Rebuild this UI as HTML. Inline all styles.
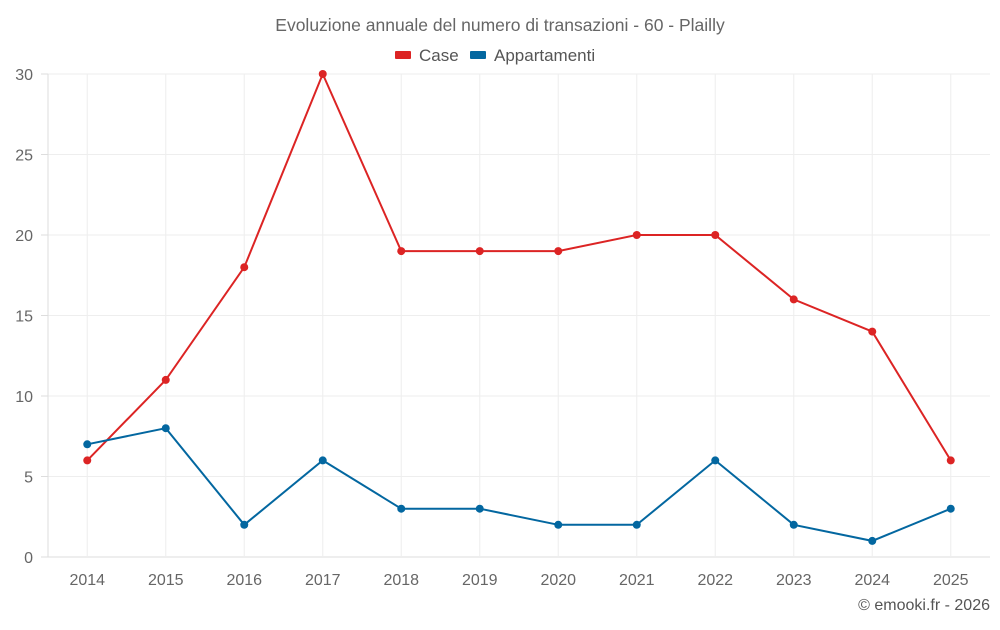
<!DOCTYPE html>
<html><head><meta charset="utf-8"><style>
body{margin:0;background:#fff;font-family:"Liberation Sans",sans-serif}
svg text{font-family:"Liberation Sans",sans-serif}
</style></head><body>
<svg id="c" width="1000" height="625">
<text x="500" y="31" text-anchor="middle" font-size="17.5" fill="#666">Evoluzione annuale del numero di transazioni - 60 - Plailly</text>
<g>
<g><rect x="395" y="51" width="16" height="8" rx="1" fill="#dc2424"/><text x="419" y="61" font-size="17" fill="#555">Case</text></g>
<g><rect x="470" y="51" width="16" height="8" rx="1" fill="#0367a0"/><text x="494" y="61" font-size="17" fill="#555">Appartamenti</text></g>
</g>
<g id="grid"></g><g id="axes"></g><g id="series"></g>
<text x="990" y="610" text-anchor="end" font-size="16" fill="#555">© emooki.fr - 2026</text>
</svg>
<script>
const years=["2014","2015","2016","2017","2018","2019","2020","2021","2022","2023","2024","2025"];
const casa=[6,11,18,30,19,19,19,20,20,16,14,6];
const appartamenti=[7,8,2,6,3,3,2,2,6,2,1,3];
const yTicks=[0,5,10,15,20,25,30];
const L=48,R=990,T=74,B=557,ymax=30;
const bw=(R-L)/years.length;
const x=i=>L+bw*(i+0.5);
const y=v=>B-(v/ymax)*(B-T);
const NS="http://www.w3.org/2000/svg";
function mk(p,t,a){const e=document.createElementNS(NS,t);for(const k in a)e.setAttribute(k,a[k]);p.appendChild(e);return e;}
const g=document.getElementById('grid'),ax=document.getElementById('axes'),s=document.getElementById('series');
yTicks.forEach(v=>{
 const l=mk(g,'line',{x1:L,x2:R,y1:y(v),y2:y(v),stroke:v?'#eee':'#ddd'});
 
 
 mk(ax,'line',{x1:41,x2:L,y1:y(v),y2:y(v),stroke:'#ddd'});
 const t=mk(ax,'text',{x:33,y:y(v)+6,'text-anchor':'end','font-size':16,fill:'#666'});t.textContent=v;
 
 
});
mk(g,'line',{x1:L,x2:L,y1:T,y2:B,stroke:'#ddd'});
years.forEach((yr,i)=>{
 const l=mk(g,'line',{x1:x(i),x2:x(i),y1:T,y2:B,stroke:'#eee'});
 
 
 const t=mk(ax,'text',{x:x(i),y:585,'text-anchor':'middle','font-size':16,fill:'#666'});t.textContent=yr;
 
 
});
function series(vals,col,name){
 const p=mk(s,'polyline',{points:vals.map((v,i)=>x(i)+','+y(v)).join(' '),fill:'none',stroke:col,'stroke-width':2});
 
 
 vals.forEach((v,i)=>{const c=mk(s,'circle',{cx:x(i),cy:y(v),r:4,fill:col});
 
 });
}
series(casa,'#dc2424','case');
series(appartamenti,'#0367a0','appartamenti');
</script>
</body></html>
